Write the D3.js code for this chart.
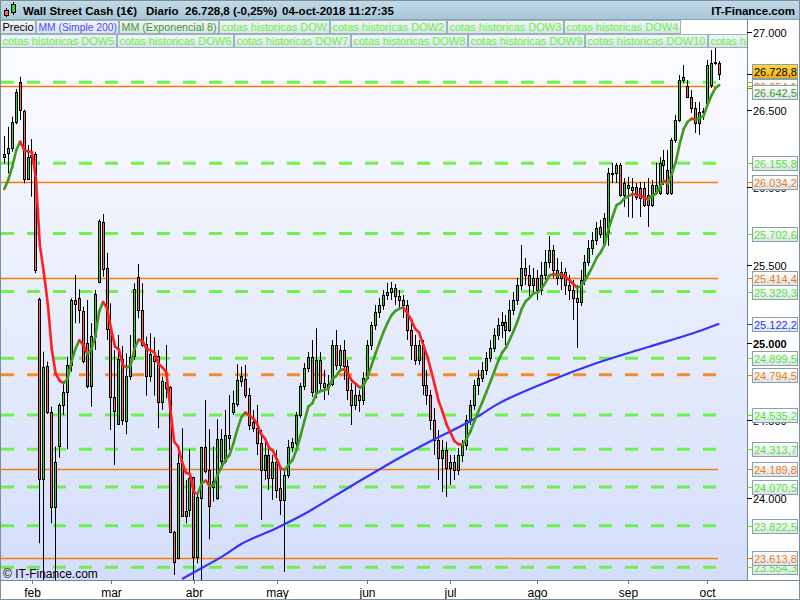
<!DOCTYPE html>
<html><head><meta charset="utf-8">
<script src="https://cdn.jsdelivr.net/npm/d3@7"></script>
<style>
html,body{margin:0;padding:0;background:#fff;}
svg{display:block;font-family:"Liberation Sans",Arial,sans-serif;}
</style></head><body>
<svg id="chart" width="800" height="600"></svg>
<script>
// ---------------- DATA ----------------
const firstDay = "2018-01-23", lastDay = "2018-10-04";
const holidays = ["2018-03-30"];
const monthLabels = ["feb","mar","abr","may","jun","jul","ago","sep","oct"];
const monthStarts = ["2018-02","2018-03","2018-04","2018-05","2018-06","2018-07","2018-08","2018-09","2018-10"];

const opens  = [26191,26219,26251,26419,26676,26493,26058,26197,26213,25279,24121,24850,24556,23944,24337,24599,24685,24856,25275,25286,25206,25000,24723,25043,25393,25779,25479,25086,24649,24475,24893,24498,24786,24910,25421,25210,24990,24781,24914,24914,24620,24749,24717,23783,23612,24224,23886,23922,24134,23622,23998,24327,24181,24073,23998,24234,24234,24404,24549,24605,24755,
 24767,24663,24490,24451,24354,24181,24277,24129,24232,24065,23988,24148,24329,24354,24535,24721,24838,24908,24683,24889,24741,24715,24734,24985,24857,24953,24850,24696,24599,24663,24631,24773,24985,25114,25198,25243,25307,25326,25352,25301,25275,25243,25082,24985,24889,24985,24728,24663,24502,24374,24258,24309,24193,24232,24181,24277,24341,24502,24599,24728,24773,24825,24902,24966,25050,25114,25133,25082,25211,25275,25371,25481,25436,25371,25417,25339,25436,25520,25597,25468,25417,25455,25371,25339,25288,25262,25404,25520,25610,25661,
 25747,25642,25713,26092,26092,26144,25951,26015,25983,26002,25996,25996,25951,25886,25964,25964,26144,26112,25964,26305,26434,26691,26652,26582,26511,26414,26485,26543,26659,26800,26800];
const highs  = [26330,26390,26455,26633,26712,26500,26273,26311,26229,25290,24942,24878,24588,24331,24610,24753,24910,25286,25436,25344,25232,25275,25125,25339,25794,25828,25579,25254,24953,25050,24979,24932,25050,25382,25507,25382,25039,25061,25035,24953,24781,24985,24720,23790,24288,24449,24116,24314,24137,24031,24331,24631,24443,24331,24507,24444,24567,24663,24691,24861,24846,
 24857,24709,24567,24599,24438,24374,24341,24277,24309,24181,24193,24374,24387,24554,24741,24869,24940,25017,25093,24940,24825,24792,25017,25082,24985,25017,24889,24741,24728,24696,24811,25017,25133,25243,25288,25339,25384,25391,25378,25339,25307,25275,25146,25050,25017,25017,24825,24696,24580,24438,24374,24361,24277,24277,24322,24374,24535,24631,24760,24825,24876,24940,25017,25093,25159,25198,25178,25275,25326,25417,25629,25545,25500,25481,25468,25520,25597,25687,25629,25545,25520,25481,25436,25404,25371,25468,25565,25661,25713,25777,
 25790,25835,26125,26157,26157,26157,26060,26067,26060,26028,26034,26034,26060,26047,26157,26195,26240,26240,26318,26466,26723,26788,26691,26627,26549,26549,26511,26820,26884,26903,26813];
const lows   = [26155,26090,26229,26406,26434,26026,26047,25940,25447,23709,23420,24541,23837,23420,24260,24535,24314,24813,25125,25125,24867,24706,24588,24953,25382,25425,25017,24438,24213,24470,24470,24410,24760,24889,25157,24974,24659,24749,24659,24449,24567,24642,23777,23505,23606,23880,23837,23880,23460,23580,23470,24159,23734,23977,23987,24191,24224,24309,24535,24588,24717,
 24644,24438,24425,24277,23859,24116,24052,23988,24000,23891,23524,24129,24296,24309,24515,24696,24811,24651,24644,24683,24631,24663,24721,24825,24811,24760,24631,24470,24567,24554,24599,24760,24953,25082,25159,25211,25275,25275,25243,25211,25159,25017,24889,24857,24857,24663,24599,24438,24277,24116,24039,24007,24084,24116,24148,24232,24309,24470,24567,24663,24747,24792,24876,24940,25017,25030,24985,25069,25178,25243,25339,25371,25288,25307,25275,25307,25404,25481,25417,25371,25339,25307,25275,25146,24966,25236,25371,25494,25565,25629,
 25674,25616,25623,26028,26028,25938,25874,25809,25803,25919,25809,25874,25745,25874,25957,25951,26015,25951,25951,26286,26421,26672,26575,26479,26350,26337,26434,26530,26640,26788,26691];
const closes = [26213,26251,26419,26612,26493,26058,26197,26208,25468,24121,24842,24556,23944,24234,24599,24685,24856,25275,25247,25206,24882,24723,25043,25312,25783,25479,25086,24649,24556,24893,24502,24786,24910,25344,25210,24985,24781,24925,24882,24620,24753,24710,23783,23590,24224,23886,23919,24127,23619,24009,24327,24170,23951,24112,24378,24378,24404,24385,24610,24760,24786,
 24663,24470,24451,24354,24181,24277,24129,24232,24052,23988,24148,24329,24361,24535,24721,24838,24908,24683,24889,24741,24715,24734,24985,24857,24953,24850,24696,24599,24663,24631,24773,24985,25114,25198,25243,25307,25326,25352,25301,25275,25243,25082,24985,24889,24985,24728,24663,24502,24374,24258,24309,24193,24232,24181,24277,24341,24502,24599,24728,24773,24825,24902,24966,25050,25114,25133,25082,25211,25275,25371,25481,25436,25371,25417,25339,25436,25520,25597,25468,25417,25455,25371,25339,25288,25262,25404,25520,25610,25661,25738,
 25704,25803,26092,26086,26144,25951,26028,25996,26002,25938,25932,25886,25886,26015,26015,26157,26176,25964,26305,26434,26691,26710,26582,26511,26414,26485,26492,26788,26800,26804,26728.8];

const emaStart = 25990;           // EMA(8) at first bar
const emaLastLabel = 26642.5;
const ma200Idx = [45,50,55,60,69,75,87,100,108,118,125,138,150,163,176,181];
const ma200Val = [23479,23550,23621,23704,23807,23884,24065,24258,24367,24496,24606,24754,24869,24972,25075,25122.2];

const greenLevels  = [26676,26155.8,25702.6,25329.3,24899.5,24535.2,24313.7,24070.5,23822.5,23554.3];
const orangeLevels = [26654.1,26034.2,25414.4,24189.8,23613.8];
const orangeDashedLevels = [24794.5];
const yTicks = [27000,26500,26000,25500,25000,24500,24000];
const lastPrice = 26728.8;

const legendRow1 = ["Precio","MM (Simple 200)","MM (Exponencial 8)","cotas historicas DOW","cotas historicas DOW2","cotas historicas DOW3","cotas historicas DOW4"];
const legendRow2 = ["cotas historicas DOW5","cotas historicas DOW6","cotas historicas DOW7","cotas historicas DOW8","cotas historicas DOW9","cotas historicas DOW10","cotas historicas DOW11"];

// ---------------- SETUP ----------------
const svg = d3.select("#chart");
const W = 800, H = 600, plotR = 747, plotB = 580;
const loc = d3.formatLocale({decimal:",", thousands:".", grouping:[3], currency:["",""]});
const fmt1 = loc.format(",.1f"), fmt0 = loc.format(",.0f");

const dates = [];
for (let d = new Date(firstDay+"T12:00:00Z"); d <= new Date(lastDay+"T12:00:00Z"); d.setUTCDate(d.getUTCDate()+1)) {
  const wd = d.getUTCDay(); const s = d.toISOString().slice(0,10);
  if (wd !== 0 && wd !== 6 && !holidays.includes(s)) dates.push(s);
}
const x = d3.scaleBand().domain(dates).range([2.33, 2.33 + dates.length*3.95]).padding(0);
const cx = i => x(dates[i]) + x.bandwidth()/2;
const y = d3.scaleLinear().domain([23472.5, 27206]).range([plotB, 0]);

const defs = svg.append("defs");
function grad(id, c0, c1){ const g = defs.append("linearGradient").attr("id",id).attr("x1",0).attr("y1",0).attr("x2",0).attr("y2",1);
  g.append("stop").attr("offset","0%").attr("stop-color",c0); g.append("stop").attr("offset","100%").attr("stop-color",c1); }
grad("bg","#ffffff","#d4defa");
grad("hd","#c4dbe7","#a7c5d6");
grad("lg","#f2f6f9","#d9e3ea");
grad("bx","#ffffff","#dbe4ec");
grad("yb","#ffd84a","#f2b200");
defs.append("clipPath").attr("id","clip").append("rect").attr("x",1).attr("y",0).attr("width",plotR-1).attr("height",plotB);

svg.append("rect").attr("width",W).attr("height",H).attr("fill","#ffffff");
svg.append("rect").attr("x",0).attr("y",0).attr("width",plotR).attr("height",plotB).attr("fill","url(#bg)");

const plot = svg.append("g").attr("clip-path","url(#clip)");

// horizontal levels
const lx0 = 1, lx1 = 718;
plot.selectAll(".gl").data(greenLevels).join("line")
  .attr("x1",lx0).attr("x2",lx1).attr("y1",d=>y(d)).attr("y2",d=>y(d))
  .attr("stroke","#62f23c").attr("stroke-width",3).attr("stroke-dasharray","13,13").attr("opacity",0.9);
plot.selectAll(".ol").data(orangeLevels).join("line")
  .attr("x1",lx0).attr("x2",lx1).attr("y1",d=>Math.round(y(d))+0.5).attr("y2",d=>Math.round(y(d))+0.5)
  .attr("stroke","#f57c0a").attr("stroke-width",1.3);
plot.selectAll(".od").data(orangeDashedLevels).join("line")
  .attr("x1",lx0).attr("x2",lx1).attr("y1",d=>y(d)).attr("y2",d=>y(d))
  .attr("stroke","#fb8a26").attr("stroke-width",3).attr("stroke-dasharray","13,13");

// candles
const n = closes.length;
const idx = d3.range(n);
const cg = plot.append("g");
cg.selectAll(".wick").data(idx).join("line")
  .attr("x1",i=>Math.floor(cx(i))+0.5).attr("x2",i=>Math.floor(cx(i))+0.5)
  .attr("y1",i=>y(highs[i])).attr("y2",i=>y(lows[i]))
  .attr("stroke","#000").attr("stroke-width",1);
cg.selectAll(".body").data(idx).join("rect")
  .attr("x",i=>Math.floor(cx(i))-0.5).attr("width",2)
  .attr("y",i=>Math.round(y(Math.max(opens[i],closes[i])))+0.5)
  .attr("height",i=>Math.max(1,Math.round(Math.abs(y(opens[i])-y(closes[i])))))
  .attr("fill",i=>closes[i]>=opens[i]?"#3ccc3c":"#f06a6a")
  .attr("stroke","#000").attr("stroke-width",1);

// MA200
const ma = ma200Idx.map((d,k)=>[cx(d), y(ma200Val[k])]);
plot.append("path").attr("d", d3.line().curve(d3.curveMonotoneX)(ma))
  .attr("fill","none").attr("stroke","#3434fa").attr("stroke-width",2.2);

// EMA 8 (coloured by direction)
const k = 2/9; const ema = [emaStart];
for (let i=1;i<n;i++) ema.push(ema[i-1] + k*(closes[i]-ema[i-1]));
for (let i=1;i<n;i++) {
  plot.append("line").attr("x1",cx(i-1)).attr("y1",y(ema[i-1])).attr("x2",cx(i)).attr("y2",y(ema[i]))
    .attr("stroke", ema[i]>=ema[i-1] ? "#3f9c1c" : "#ff1f1f").attr("stroke-width",2.6).attr("stroke-linecap","round");
}

// copyright
svg.append("text").attr("x",3).attr("y",578).attr("font-size",12).attr("fill","#000").text("\u00A9 IT-Finance.com");

// right axis
svg.append("rect").attr("x",plotR).attr("y",20).attr("width",W-plotR).attr("height",plotB-20).attr("fill","#ffffff");
svg.append("line").attr("x1",plotR+0.5).attr("x2",plotR+0.5).attr("y1",20).attr("y2",plotB+1).attr("stroke","#73899a");
svg.append("line").attr("x1",0).attr("x2",W).attr("y1",plotB+0.5).attr("y2",plotB+0.5).attr("stroke","#73899a");
const ya = svg.append("g");
yTicks.forEach(t=>{
  const yy = Math.round(y(t))+0.5;
  ya.append("line").attr("x1",plotR).attr("x2",plotR+5).attr("y1",yy).attr("y2",yy).attr("stroke","#000");
  ya.append("text").attr("x",plotR+6).attr("y",yy+4).attr("font-size",11).attr("font-weight",t===25000?"bold":"normal").text(fmt0(t));
});
function valueLabel(v, color, fill, dy, tickOnly) {
  const yy = Math.round(y(v))+0.5;
  ya.append("line").attr("x1",plotR).attr("x2",plotR+5).attr("y1",yy).attr("y2",yy).attr("stroke",color);
  if (tickOnly) return;
  const cyy = y(v) + (dy||0);
  ya.append("rect").attr("x",752.5).attr("y",Math.round(cyy-7)+0.5).attr("width",45).attr("height",14)
    .attr("fill",fill||"url(#bx)").attr("stroke","#8b9eab");
  ya.append("text").attr("x",754).attr("y",Math.round(cyy)+4.5).attr("font-size",11)
    .attr("fill", fill ? "#000" : color).text(fmt1(v));
}
greenLevels.forEach((v,i)=>valueLabel(v,"#52e62c",null,0,i===0));
orangeLevels.concat(orangeDashedLevels).forEach(v=>valueLabel(v,"#f07a10"));
valueLabel(ma200Val[ma200Val.length-1],"#3434fa");
valueLabel(emaLastLabel,"#3f9c1c",null,4.5);
valueLabel(lastPrice,"#000","url(#yb)",-3);

// x axis
const xa = svg.append("g");
monthStarts.forEach((m,j)=>{
  const i = dates.findIndex(d=>d.startsWith(m));
  const xx = Math.round(cx(i)-0.3)+0.5;
  xa.append("line").attr("x1",xx).attr("x2",xx).attr("y1",plotB).attr("y2",plotB+4).attr("stroke","#6a7c88");
  xa.append("text").attr("x",xx).attr("y",597).attr("text-anchor","middle").attr("font-size",12).text(monthLabels[j]);
});

// header
svg.append("rect").attr("x",0).attr("y",0).attr("width",W).attr("height",20).attr("fill","url(#hd)");
svg.append("line").attr("x1",0).attr("x2",W).attr("y1",19.5).attr("y2",19.5).attr("stroke","#8ba3b2");
svg.append("line").attr("x1",6.5).attr("x2",6.5).attr("y1",8).attr("y2",17).attr("stroke","#000");
svg.append("rect").attr("x",4.5).attr("y",10.5).attr("width",4).attr("height",5).attr("fill","#f06a6a").attr("stroke","#000");
svg.append("line").attr("x1",13.5).attr("x2",13.5).attr("y1",2).attr("y2",15).attr("stroke","#000");
svg.append("rect").attr("x",11.5).attr("y",4.5).attr("width",4).attr("height",8).attr("fill","#3ccc3c").attr("stroke","#000");
const ht = svg.append("g").attr("font-size",11.5).attr("font-weight","bold").attr("fill","#000");
ht.append("text").attr("x",23).attr("y",15).text("Wall Street Cash (1\u20AC)");
ht.append("text").attr("x",146).attr("y",15).text("Diario");
ht.append("text").attr("x",185).attr("y",15).text("26.728,8 (-0,25%)");
ht.append("text").attr("x",282).attr("y",15).text("04-oct-2018 11:27:35");
ht.append("text").attr("x",795).attr("y",15).attr("text-anchor","end").text("IT-Finance.com");

// legend
const legColor = t => t==="Precio" ? "#000" : t.startsWith("MM (S") ? "#4a4aff" : t.startsWith("MM (E") ? "#3c9c1e" : "#66f23e";
const legSize = t => t.startsWith("MM (S") ? 10.3 : t.startsWith("MM (E") ? 10.7 : 11;
svg.append("rect").attr("x",0).attr("y",20).attr("width",plotR).attr("height",14).attr("fill","#ffffff");
const lgG = svg.append("g").attr("clip-path","url(#clip)");
[legendRow1, legendRow2].forEach((row, r)=>{
  let xx = 0; const yy = 20.5 + r*14;
  row.forEach(t=>{
    const g = lgG.append("g");
    const rect = g.append("rect").attr("y",yy).attr("height",13).attr("fill","url(#lg)").attr("stroke","#9db0bd");
    const tx = g.append("text").attr("x",xx+2.5).attr("y",yy+10.5).attr("font-size",legSize(t)).attr("fill",legColor(t)).text(t);
    const w = Math.round(tx.node().getComputedTextLength()+4);
    rect.attr("x",xx+0.5).attr("width",w);
    xx += w+1;
  });
});
svg.append("rect").attr("x",0.5).attr("y",0.5).attr("width",W-1).attr("height",H-1).attr("fill","none").attr("stroke","#7a8f9c");
</script>
</body></html>
